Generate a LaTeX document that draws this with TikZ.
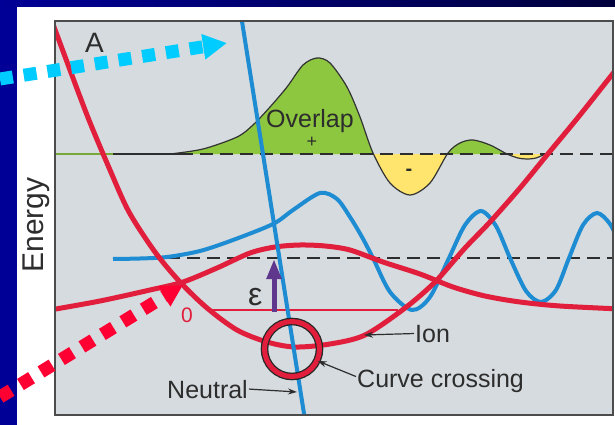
\documentclass[tikz,border=0pt]{standalone}
\usepackage{fontspec}
\setmainfont{Liberation Sans}
\usepackage{tikz}
\usetikzlibrary{arrows.meta}
\definecolor{slidenavy}{RGB}{0,0,150}
\definecolor{slidedark}{RGB}{0,0,60}
\definecolor{plotgray}{RGB}{213,219,222}
\definecolor{ionred}{RGB}{225,30,60}
\definecolor{wfblue}{RGB}{30,140,210}
\definecolor{ovgreen}{RGB}{141,198,63}
\definecolor{ovyellow}{RGB}{255,229,110}
\definecolor{epspurple}{RGB}{95,55,140}
\definecolor{labgray}{RGB}{45,45,45}
\definecolor{ptrcyan}{RGB}{0,204,255}
\definecolor{ptrred}{RGB}{255,0,51}
\newcommand{\labfont}{\fontsize{25}{30}\selectfont}
\newcommand{\overlapcurve}{plot[smooth] coordinates {(170,154) (203,149) (237,137) (253,125) (270,107) (287,87) (303,65) (317,58) (330,63) (347,87) (360,117) (373,153) (390,183) (410,195) (430,183) (448,153) (460,143) (473,140) (490,145) (507,154) (518,158) (527,159) (536,158) (545,154)}}

\begin{document}
\begin{tikzpicture}[
  x=1pt,y=-1pt,
  every node/.style={font=\labfont,text=labgray,inner sep=1pt},
  lab/.style={anchor=base west},
  pes/.style={ionred,line width=5pt},
  wave/.style={wfblue,line width=4pt},
  level/.style={labgray,line width=1.8pt,dash pattern=on 13pt off 7pt},
  ptr/.style={->,labgray,line width=1.2pt},
  dots/.style={line width=13pt,dash pattern=on 13pt off 11pt},
  >={Stealth[length=9pt,width=6pt]}
]
\useasboundingbox (0,0) rectangle (615,425);
\fill[slidenavy] (0,0) rectangle (615,425);
\shade[left color=slidenavy,right color=slidedark] (0,0) rectangle (615,7);
\fill[white] (17,7) rectangle (615,425);
\fill[plotgray] (55,21) rectangle (613,415);

\begin{scope}
\clip (55,21) rectangle (613,415);
\begin{scope}
\clip (55,21) rectangle (613,154);
\fill[ovgreen] \overlapcurve -- cycle;
\end{scope}
\begin{scope}
\clip (55,154) rectangle (613,415);
\fill[ovyellow] \overlapcurve -- cycle;
\end{scope}
\draw[black!80,line width=1.2pt] \overlapcurve;
\draw[ovgreen!85!black,line width=1.2pt] (55,154) -- (113,154);
\draw[labgray,line width=1.2pt] (113,154) -- (180,154);
\draw[level] (180,154) -- (613,154);
\draw[level] (167,258) -- (613,258);
\draw[ionred,line width=1.2pt] (207,310) -- (398,310);

\draw[wave] plot[smooth] coordinates {(113,259) (140,258.5) (167,257) (200,251) (233,240) (273,224) (293,210) (320,193) (337,199) (350,217) (362,237) (373,258) (390,292) (412,310) (430,297) (449,258) (465,225) (481,211) (496,226) (510,258) (526,291) (541,302) (556,290) (569,258) (583,225) (597,213) (610,224) (622,248)};
\draw[pes] plot[smooth] coordinates {(50,310) (100,301) (150,290) (183,282) (217,268) (250,253) (275,247) (300,245) (325,246) (350,250) (383,262) (420,274) (453,287) (485,296) (520,302) (560,306) (620,309)};
\draw[pes] plot[smooth] coordinates {(50,16) (57,35) (87,115) (110,170) (129,212) (155,252) (180,282) (207,308) (237,330) (267,342) (295,347) (330,344) (365,335) (405,308) (435,282) (465,248) (490,222) (520,188) (547,155) (580,115) (622,62)};
\draw[wave] (241,15) -- (305,420);
\end{scope}
\draw[labgray!85,line width=2pt] (55,21) rectangle (613,415);

\node[draw=black!85,line width=1.3pt,double=ionred,double distance=5pt,circle,minimum size=55pt,inner sep=0pt] (xing) at (292,349) {};

\coordinate (eps0) at (274,312);
\coordinate (eps1) at (274,259);
\draw[epspurple,line width=5pt,-{Triangle[length=20pt,width=14pt]}] (eps0) -- (eps1);

\node[lab,inner sep=0pt] (ovlab) at (266,128) {Overlap};
\node[inner sep=0pt,font=\fontsize{18}{18}\selectfont] (plus) at (312,142) {+};
\node[font=\fontsize{20}{20}\selectfont\bfseries] (minus) at (409,172) {-};
\node[lab,font=\fontsize{28}{30}\selectfont] (panel) at (84,53) {A};
\node[rotate=90,anchor=base,font=\fontsize{30}{34}\selectfont] (elab) at (43,225) {Energy};
\node[lab,text=ionred,font=\fontsize{21}{24}\selectfont] (zero) at (180,322) {0};
\node[lab,font=\fontsize{32}{36}\selectfont] (eps) at (247,305) {ε};
\node[lab] (ionlab) at (414,342) {Ion};
\node[lab] (xlab) at (356,387) {Curve crossing};
\node[lab] (neulab) at (166,398) {Neutral};

\coordinate (ionpt) at (364,335);
\coordinate (neupt) at (297,392);
\draw[ptr] (ionlab.west) -- (ionpt);
\draw[ptr] ([yshift=4pt]xlab.west) -- (xing.-25);
\draw[ptr] (neulab.east) -- (neupt);

\coordinate (cyfrom) at (0,79);
\coordinate (cyto) at (227,43);
\coordinate (rdfrom) at (0,397);
\coordinate (rdto) at (183,285);
\draw[dots,ptrcyan,-{Triangle[length=24pt,width=24pt]}] (cyfrom) -- (cyto);
\draw[dots,ptrred,-{Triangle[length=22pt,width=22pt]}] (rdfrom) -- (rdto);

\end{tikzpicture}
\end{document}
